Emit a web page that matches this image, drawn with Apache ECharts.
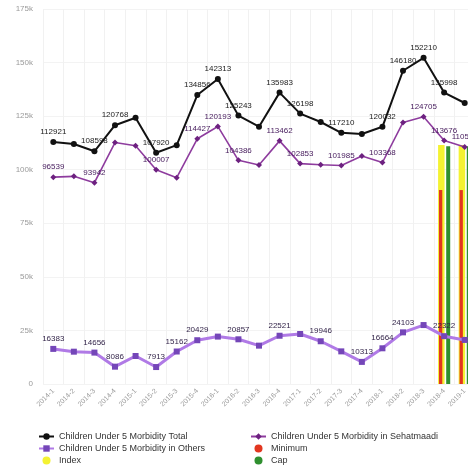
<!DOCTYPE html>
<html>
<head>
<meta charset="utf-8">
<script src="https://cdn.jsdelivr.net/npm/echarts@6/dist/echarts.min.js"></script>
<style>
  html, body { margin: 0; padding: 0; background: #fff; }
  #chart { width: 468px; height: 470px; }
</style>
</head>
<body>
<div id="chart"></div>
<script>
// Quarterly morbidity counts for children under five
const quarters = [
  '2014-1', '2014-2', '2014-3', '2014-4',
  '2015-1', '2015-2', '2015-3', '2015-4',
  '2016-1', '2016-2', '2016-3', '2016-4',
  '2017-1', '2017-2', '2017-3', '2017-4',
  '2018-1', '2018-2', '2018-3', '2018-4',
  '2019-1'
];

const totalCases = [
  112921, 111980, 108598, 120768, 124270, 107920, 111462, 134856,
  142313, 125243, 120100, 135983, 126198, 122270, 117210, 116670,
  120032, 146180, 152210, 135998, 131140
];

const sehatmaadiCases = [
  96539, 96900, 93942, 112682, 111200, 100007, 96300, 114427,
  120193, 104386, 102200, 113462, 102853, 102324, 101985, 106357,
  103368, 122077, 124705, 113676, 110573
];

const otherCases = [
  16383, 15080, 14656, 8086, 13070, 7913, 15162, 20429,
  22120, 20857, 17900, 22521, 23345, 19946, 15225, 10313,
  16664, 24103, 27505, 22322, 20567
];

// Reference levels, only set for the latest two quarters
const indexLevel = [
  null, null, null, null, null, null, null, null, null, null, null,
  null, null, null, null, null, null, null, null, 111500, 111500
];
const minimumLevel = [
  null, null, null, null, null, null, null, null, null, null, null,
  null, null, null, null, null, null, null, null, 90500, 90500
];
const capLevel = [
  null, null, null, null, null, null, null, null, null, null, null,
  null, null, null, null, null, null, null, null, 111000, 111000
];

// Points whose value is printed
const totalLabelled = [0, 2, 3, 5, 7, 8, 9, 11, 12, 14, 16, 17, 18, 19];
const sehatmaadiLabelled = [0, 2, 5, 7, 8, 9, 11, 12, 14, 16, 18, 19, 20];
const otherLabelled = [0, 2, 3, 5, 6, 7, 9, 11, 13, 15, 16, 17, 19];

const FONT = '"Liberation Sans", Arial, sans-serif';

function labelled(values, shown) {
  return values.map((v, i) => ({ value: v, label: { show: shown.includes(i) } }));
}

const chart = echarts.init(document.getElementById('chart'), null, { renderer: 'canvas' });

const plotTop = 9, plotHeight = 375, plotLeft = 43, plotWidth = 432;

const yAxisBase = {
  type: 'value',
  min: 0,
  max: 175000,
  interval: 25000
};

const legendBase = {
  orient: 'vertical',
  top: 432,
  padding: 0,
  itemGap: 3,
  itemWidth: 15,
  itemHeight: 8,
  textStyle: { fontSize: 9, color: '#333', fontFamily: FONT }
};

chart.setOption({
  animation: false,
  textStyle: { fontFamily: FONT },
  grid: [
    { left: plotLeft, top: plotTop, width: plotWidth, height: plotHeight, outerBoundsMode: 'none', containLabel: false },
    { left: plotLeft - 3.5, top: plotTop, width: plotWidth, height: plotHeight, outerBoundsMode: 'none', containLabel: false }
  ],
  xAxis: [
    {
      type: 'category',
      gridIndex: 0,
      data: quarters,
      boundaryGap: true,
      axisLine: { show: false },
      axisTick: { show: false },
      axisLabel: {
        interval: 0,
        rotate: 45,
        fontSize: 7,
        color: '#9a9a9a',
        margin: 6,
        fontFamily: FONT
      },
      splitLine: { show: true, interval: 0, lineStyle: { color: '#f1f1f1', width: 1 } }
    },
    {
      type: 'category',
      gridIndex: 1,
      data: quarters,
      boundaryGap: true,
      show: false
    }
  ],
  yAxis: [
    Object.assign({}, yAxisBase, {
      gridIndex: 0,
      axisLine: { show: false },
      axisTick: { show: false },
      axisLabel: {
        fontSize: 8,
        color: '#9a9a9a',
        margin: 10,
        fontFamily: FONT,
        formatter: v => (v === 0 ? '0' : (v / 1000) + 'k')
      },
      splitLine: { show: true, lineStyle: { color: '#f3f3f3', width: 1 } }
    }),
    Object.assign({}, yAxisBase, { gridIndex: 1, show: false })
  ],
  legend: [
    Object.assign({}, legendBase, {
      left: 38,
      data: [
        'Children Under 5 Morbidity Total',
        'Children Under 5 Morbidity in Others',
        { name: 'Index', icon: 'circle' }
      ]
    }),
    Object.assign({}, legendBase, {
      left: 250,
      data: [
        'Children Under 5 Morbidity in Sehatmaadi',
        { name: 'Minimum', icon: 'circle' },
        { name: 'Cap', icon: 'circle' }
      ]
    })
  ],
  series: [
    {
      name: 'Index',
      type: 'bar',
      xAxisIndex: 0,
      yAxisIndex: 0,
      data: indexLevel,
      barWidth: 6.5,
      barGap: '25%',
      itemStyle: { color: '#f4f232' },
      z: 1
    },
    {
      name: 'Cap',
      type: 'bar',
      xAxisIndex: 0,
      yAxisIndex: 0,
      data: capLevel,
      barWidth: 4,
      barGap: '25%',
      itemStyle: { color: '#2f8f2f' },
      z: 1
    },
    {
      name: 'Minimum',
      type: 'bar',
      xAxisIndex: 1,
      yAxisIndex: 1,
      data: minimumLevel,
      barWidth: 3.3,
      itemStyle: { color: '#e2361f' },
      z: 2
    },
    {
      name: 'Children Under 5 Morbidity Total',
      type: 'line',
      xAxisIndex: 0,
      yAxisIndex: 0,
      data: labelled(totalCases, totalLabelled),
      symbol: 'circle',
      symbolSize: 6,
      lineStyle: { color: '#111', width: 2 },
      itemStyle: { color: '#111' },
      label: { position: 'top', distance: 3, fontSize: 8, color: '#222', fontFamily: FONT },
      z: 5
    },
    {
      name: 'Children Under 5 Morbidity in Sehatmaadi',
      type: 'line',
      xAxisIndex: 0,
      yAxisIndex: 0,
      data: labelled(sehatmaadiCases, sehatmaadiLabelled),
      symbol: 'diamond',
      symbolSize: 6,
      lineStyle: { color: '#8e3c9e', width: 1.6 },
      itemStyle: { color: '#6d2180' },
      label: { position: 'top', distance: 3, fontSize: 8, color: '#4a2060', fontFamily: FONT },
      z: 5
    },
    {
      name: 'Children Under 5 Morbidity in Others',
      type: 'line',
      xAxisIndex: 0,
      yAxisIndex: 0,
      data: labelled(otherCases, otherLabelled),
      symbol: 'rect',
      symbolSize: 6,
      lineStyle: { color: '#b07ae6', width: 3 },
      itemStyle: { color: '#7446b8' },
      label: { position: 'top', distance: 3, fontSize: 8, color: '#2e1f45', fontFamily: FONT },
      z: 5
    }
  ]
});
</script>
</body>
</html>
